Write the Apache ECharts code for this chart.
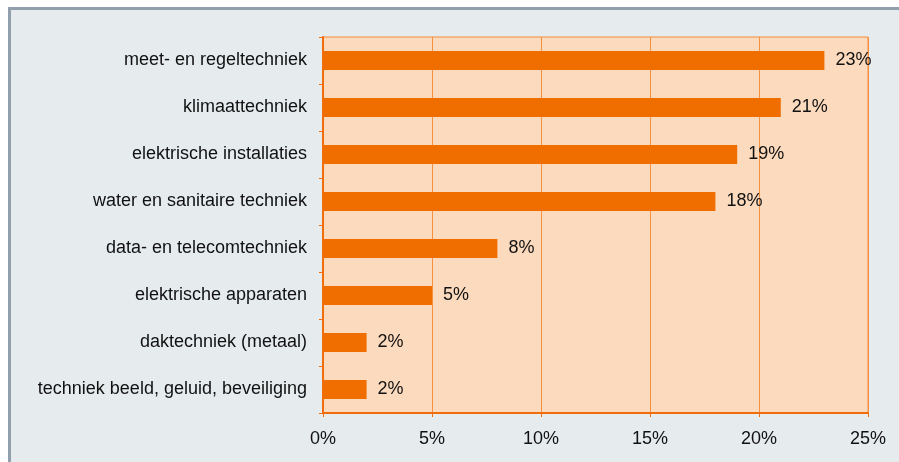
<!DOCTYPE html>
<html><head><meta charset="utf-8">
<script src="https://cdn.jsdelivr.net/npm/echarts@6/dist/echarts.min.js"></script>
<style>html,body{margin:0;padding:0;background:#fff}#c{width:899px;height:462px}</style>
</head><body><div id="c"></div>
<script>
var categories = ["meet- en regeltechniek","klimaattechniek","elektrische installaties","water en sanitaire techniek","data- en telecomtechniek","elektrische apparaten","daktechniek (metaal)","techniek beeld, geluid, beveiliging"];
var values = [23, 21, 19, 18, 8, 5, 2, 2];
var xTicks = [0, 5, 10, 15, 20, 25];

var chart = echarts.init(document.getElementById('c'));
chart.setOption({
  animation: false,
  textStyle: {fontFamily: 'Liberation Sans, Arial, sans-serif'},
  graphic: [{
    type: 'rect', z: -10, silent: true,
    shape: {x: 9.5, y: 8.5, width: 900, height: 470},
    style: {fill: '#e6ebee', stroke: '#909fab', lineWidth: 3}
  }],
  grid: {left: 323, right: 31, top: 37, bottom: 49, show: true, backgroundColor: '#fcdabd', borderColor: '#f58a3c', borderWidth: 1},
  xAxis: {
    type: 'value', min: xTicks[0], max: xTicks[xTicks.length-1], interval: 5,
    axisLine: {show: true, lineStyle: {color: '#f26c0a', width: 2}},
    axisTick: {show: true, length: 4, lineStyle: {color: '#f26c0a'}},
    splitLine: {show: true, lineStyle: {color: '#f5903e', width: 1}},
    axisLabel: {color: '#111', fontSize: 18, margin: 17, formatter: function(v){return v + '%';}}
  },
  yAxis: {
    type: 'category', inverse: true, data: categories,
    axisLine: {show: true, lineStyle: {color: '#f26c0a', width: 2}},
    axisTick: {show: true, length: 4, lineStyle: {color: '#f26c0a'}},
    axisLabel: {color: '#111', fontSize: 18, margin: 16, padding: [3, 0, 0, 0]}
  },
  series: [{
    type: 'bar', data: values, barWidth: 19,
    itemStyle: {color: '#f06d00'},
    label: {show: true, position: 'right', distance: 11, color: '#111', fontSize: 18, formatter: '{c}%'}
  }]
});
</script></body></html>
